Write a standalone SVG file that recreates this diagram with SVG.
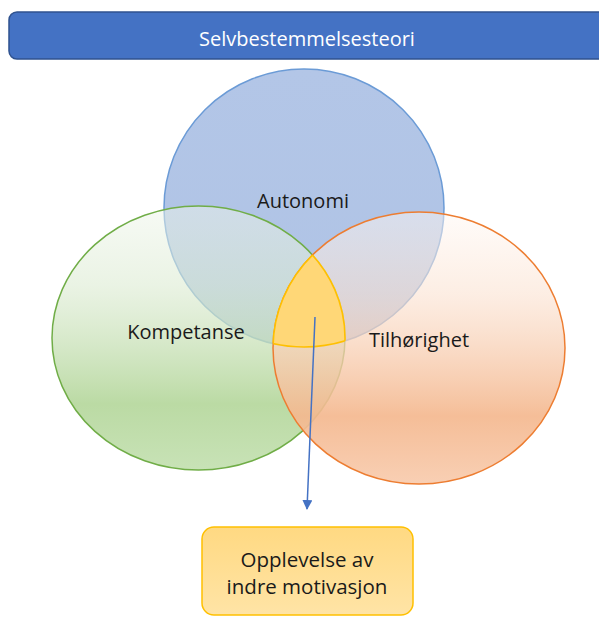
<svg xmlns="http://www.w3.org/2000/svg" width="599" height="617" viewBox="0 0 599 617">
  <style>
    .lbl { font-family: "Open Sans", "Liberation Sans", sans-serif; font-size: 20px; fill: #1a1a1a; text-anchor: middle; }
    .box { font-family: "Open Sans", "Liberation Sans", sans-serif; font-size: 20.5px; fill: #1a1a1a; text-anchor: middle; }
    .title { font-family: "Open Sans", "Liberation Sans", sans-serif; font-size: 20px; fill: #ffffff; text-anchor: middle; }
    .conn { stroke: #4472C4; stroke-width: 1.5; fill: none; }
    .edge { fill: none; stroke: #FFC000; stroke-width: 1.6; }
  </style>
  <defs>
    <linearGradient id="gBlue" x1="0" y1="0" x2="0" y2="1">
      <stop offset="0" stop-color="#B3C6E7"/>
      <stop offset="1" stop-color="#AFC3E5"/>
    </linearGradient>
    <linearGradient id="gGreen" x1="0" y1="0" x2="0" y2="1">
      <stop offset="0" stop-color="#EEF5EA" stop-opacity="0.5"/>
      <stop offset="0.3" stop-color="#DCEBD2" stop-opacity="0.6"/>
      <stop offset="0.75" stop-color="#B5D79C" stop-opacity="0.92"/>
      <stop offset="1" stop-color="#C3E0B0" stop-opacity="0.92"/>
    </linearGradient>
    <linearGradient id="gOrange" x1="0" y1="0" x2="0" y2="1">
      <stop offset="0" stop-color="#FFF8F3" stop-opacity="0.5"/>
      <stop offset="0.3" stop-color="#FBE2D1" stop-opacity="0.6"/>
      <stop offset="0.75" stop-color="#F4B88F" stop-opacity="0.92"/>
      <stop offset="1" stop-color="#F8CBAD" stop-opacity="0.92"/>
    </linearGradient>
    <linearGradient id="gBox" x1="0" y1="0" x2="0" y2="1">
      <stop offset="0" stop-color="#FFD982"/>
      <stop offset="1" stop-color="#FFE4A6"/>
    </linearGradient>
    <clipPath id="clipBlue">
      <ellipse cx="304" cy="208" rx="140" ry="139"/>
    </clipPath>
    <clipPath id="clipGreen">
      <ellipse cx="198.5" cy="338" rx="146.5" ry="132"/>
    </clipPath>
    <clipPath id="clipOrange">
      <ellipse cx="419" cy="348" rx="146" ry="136"/>
    </clipPath>
    <marker id="arrow" viewBox="0 0 10 10" refX="9" refY="5" markerWidth="10" markerHeight="10" orient="auto" markerUnits="userSpaceOnUse">
      <path d="M0,0 L10,5 L0,10 Z" fill="#4472C4"/>
    </marker>
  </defs>

  <!-- title banner -->
  <g id="title">
    <rect x="9" y="12" width="600" height="47" rx="8" ry="8" fill="#4472C4" stroke="#2F528F" stroke-width="1.5"/>
    <text class="title" x="307" y="46">Selvbestemmelsesteori</text>
  </g>

  <!-- Autonomi -->
  <g id="autonomi">
    <ellipse cx="304" cy="208" rx="140" ry="139" fill="url(#gBlue)" stroke="#6B9BD6" stroke-width="1.5"/>
  </g>

  <!-- Kompetanse -->
  <g id="kompetanse">
    <ellipse cx="198.5" cy="338" rx="146.5" ry="132" fill="url(#gGreen)" stroke="#70AD47" stroke-width="1.5"/>
  </g>

  <!-- Tilhørighet -->
  <g id="tilhorighet">
    <ellipse cx="419" cy="348" rx="146" ry="136" fill="url(#gOrange)" stroke="#ED7D31" stroke-width="1.5"/>
  </g>

  <!-- region shared by all three -->
  <g id="overlap">
    <g clip-path="url(#clipBlue)">
      <g clip-path="url(#clipGreen)">
        <ellipse cx="419" cy="348" rx="146" ry="136" fill="#FFD777"/>
        <ellipse class="edge" cx="419" cy="348" rx="146" ry="136"/>
      </g>
    </g>
    <g clip-path="url(#clipGreen)">
      <g clip-path="url(#clipOrange)">
        <ellipse class="edge" cx="304" cy="208" rx="140" ry="139"/>
      </g>
    </g>
    <g clip-path="url(#clipBlue)">
      <g clip-path="url(#clipOrange)">
        <ellipse class="edge" cx="198.5" cy="338" rx="146.5" ry="132"/>
      </g>
    </g>
  </g>

  <!-- labels -->
  <g id="labels">
    <text class="lbl" x="303" y="208">Autonomi</text>
    <text class="lbl" x="186" y="339">Kompetanse</text>
    <text class="lbl" x="419" y="347">Tilhørighet</text>
  </g>

  <!-- connectors -->
  <g id="connectors">
    <line class="conn" x1="315" y1="317" x2="307" y2="509" marker-end="url(#arrow)"/>
  </g>

  <!-- outcome -->
  <g id="outcome">
    <rect x="202" y="527" width="211" height="88" rx="12" ry="12" fill="url(#gBox)" stroke="#FFC000" stroke-width="1.5"/>
    <text class="box" x="307" y="567">Opplevelse av</text>
    <text class="box" x="307" y="594">indre motivasjon</text>
  </g>
</svg>
